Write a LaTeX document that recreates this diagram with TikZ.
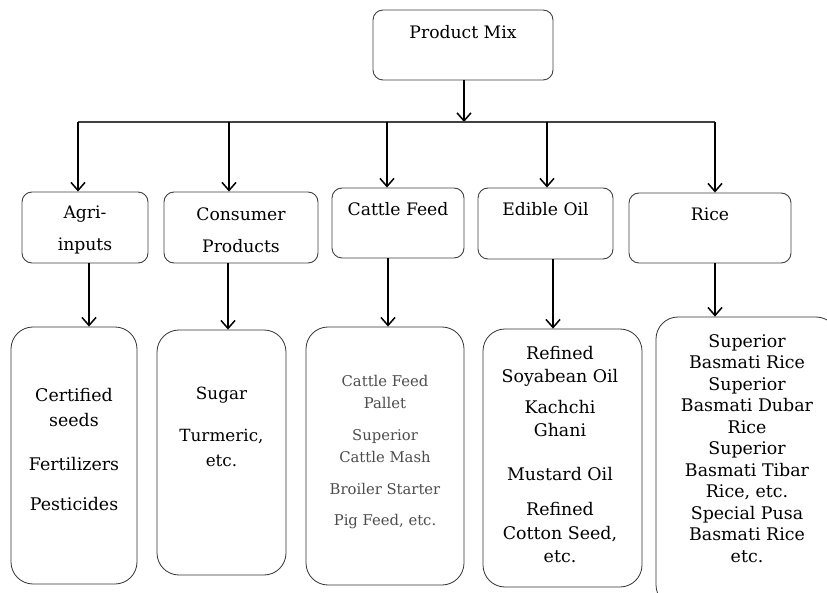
\documentclass[tikz,border=0pt]{standalone}
\usepackage{fontspec}
\setmainfont{DejaVu Serif}
\usetikzlibrary{arrows.meta}
\begin{document}
\begin{tikzpicture}[x=1pt,y=-1pt,
  boxs/.style={draw=black!75, line width=0.9pt, rounded corners=10pt, inner sep=0pt},
  boxl/.style={draw=black!80, line width=0.8pt, rounded corners=22pt, inner sep=0pt},
  txt/.style={inner sep=0pt, align=center, font=\fontsize{17.2}{32}\selectfont},
  ltxt/.style={inner sep=0pt, anchor=north, align=center, font=\fontsize{17.4}{#1}\selectfont},
  arr/.style={line width=1.5pt, -{Straight Barb[length=8pt,width=14pt,line width=1.5pt]}},
  bus/.style={line width=1.3pt, draw=black!75}]
\useasboundingbox (0,0) rectangle (827,593);

% top
\node[boxs, minimum width=180pt, minimum height=70pt] (pm) at (463,45) {};
\node[txt] (pmt) at (463,32) {Product Mix};

% level 2 boxes
\node[boxs, minimum width=126pt, minimum height=71pt] (agri2) at (85,227.5) {};
\node[boxs, minimum width=154pt, minimum height=71pt] (cons2) at (241,227.5) {};
\node[boxs, minimum width=132pt, minimum height=70pt] (cat2) at (398,223) {};
\node[boxs, minimum width=135pt, minimum height=71pt] (edi2) at (545.5,223.5) {};
\node[boxs, minimum width=162pt, minimum height=70pt] (rice2) at (710,228) {};

\node[txt] (agri2t) at (85,230) {Agri-\\inputs};
\node[txt] (cons2t) at (241,230) {Consumer\\Products};
\node[txt] (cat2t) at (398,209) {Cattle Feed};
\node[txt] (edi2t) at (545.5,209) {Edible Oil};
\node[txt] (rice2t) at (710,214) {Rice};

% level 3 boxes
\node[boxl, minimum width=126pt, minimum height=257pt] (agri3) at (74,455.5) {};
\node[boxl, minimum width=129pt, minimum height=245pt] (cons3) at (221.5,452.5) {};
\node[boxl, minimum width=158pt, minimum height=258pt] (cat3) at (385,456) {};
\node[boxl, minimum width=159pt, minimum height=258pt] (edi3) at (562.5,458) {};
\node[boxl, minimum width=182pt, minimum height=290pt] (rice3) at (747,462) {};

\node[ltxt=25.5] (agri3t) at (74,388) {Certified\\seeds\\[18pt]Fertilizers\\[15pt]Pesticides};
\node[ltxt=25, font=\fontsize{16.8}{25}\selectfont] (cons3t) at (221.5,387) {Sugar\\[17pt]Turmeric,\\etc.};
\node[ltxt=22.5, text=black!70, font=\fontsize{14.8}{22.5}\selectfont] (cat3t) at (385,375)
  {Cattle Feed\\Pallet\\[9pt]Superior\\Cattle Mash\\[9pt]Broiler Starter\\[8.5pt]Pig Feed, etc.};
\node[ltxt=23.5] (edi3t) at (560,346)
  {Refined\\Soyabean Oil\\[7pt]Kachchi\\Ghani\\[20pt]Mustard Oil\\[12pt]Refined\\Cotton Seed,\\etc.};
\node[ltxt=21.5] (rice3t) at (747,334)
  {Superior\\Basmati Rice\\Superior\\Basmati Dubar\\Rice\\Superior\\Basmati Tibar\\Rice, etc.\\Special Pusa\\Basmati Rice\\etc.};

% connectors
\coordinate (busm) at (464,122);
\coordinate (bl) at (78,122);
\coordinate (br) at (715,122);
\coordinate (b2) at (229,122);
\coordinate (b3) at (387,122);
\coordinate (b4) at (547,122);
\draw[arr] (pm.south -| busm) -- (busm);
\draw[bus] (bl) -- (br);
\draw[arr] (bl) -- (bl |- agri2.north);
\draw[arr] (b2) -- (b2 |- cons2.north);
\draw[arr] (b3) -- (b3 |- cat2.north);
\draw[arr] (b4) -- (b4 |- edi2.north);
\draw[arr] (br) -- (br |- rice2.north);

\coordinate (l1) at (89,0);
\coordinate (l2) at (228,0);
\coordinate (l3) at (388,0);
\coordinate (l4) at (553,0);
\coordinate (l5) at (715,0);
\draw[arr] (agri2.south -| l1) -- (agri3.north -| l1);
\draw[arr] (cons2.south -| l2) -- (cons3.north -| l2);
\draw[arr] (cat2.south -| l3) -- (cat3.north -| l3);
\draw[arr] (edi2.south -| l4) -- (edi3.north -| l4);
\draw[arr] (rice2.south -| l5) -- (rice3.north -| l5);
\end{tikzpicture}
\end{document}
